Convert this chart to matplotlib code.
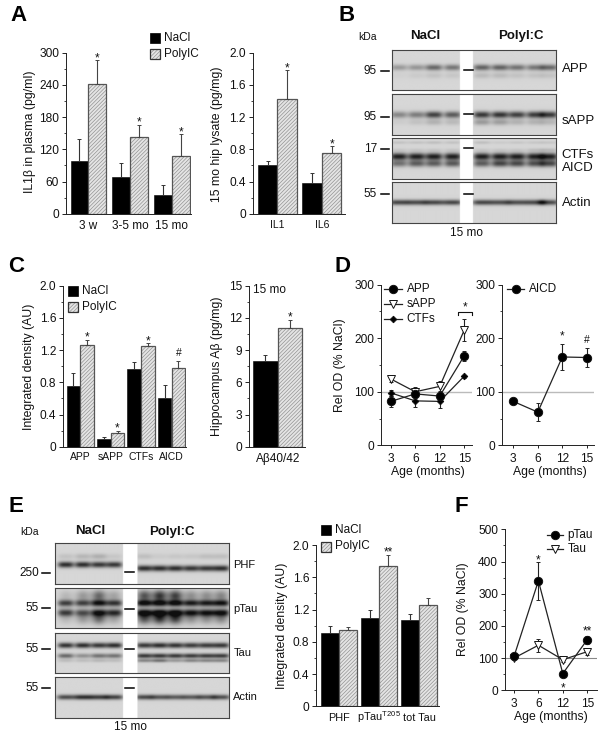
import numpy as np
import matplotlib
matplotlib.use("Agg")
import matplotlib.pyplot as plt
from matplotlib.patches import Rectangle

plt.rcParams['font.family'] = ['Liberation Sans', 'DejaVu Sans']
plt.rcParams['mathtext.fontset'] = 'custom'
plt.rcParams['mathtext.rm'] = 'Liberation Sans'
plt.rcParams['hatch.linewidth'] = 0.45

W, H = 600, 737
INK = '#222222'
HATCH = '#8c8c8c'
FILL = '#e4e4e4'

# panel A
a1_groups = ['3 w', '3-5 mo', '15 mo']
a1_nacl = [98, 68, 35]
a1_nacl_err = [42, 27, 19]
a1_poly = [242, 143, 107]
a1_poly_err = [44, 23, 41]
a1_marks = ['*', '*', '*']
a2_groups = ['IL1', 'IL6']
a2_nacl = [0.60, 0.38]
a2_nacl_err = [0.05, 0.12]
a2_poly = [1.42, 0.75]
a2_poly_err = [0.36, 0.09]
a2_marks = ['*', '*']

# panel C
c1_groups = ['APP', 'sAPP', 'CTFs', 'AICD']
c1_nacl = [0.75, 0.09, 0.97, 0.60]
c1_nacl_err = [0.16, 0.03, 0.08, 0.17]
c1_poly = [1.26, 0.17, 1.25, 0.98]
c1_poly_err = [0.07, 0.03, 0.04, 0.09]
c1_marks = ['*', '*', '*', '#']
c2_groups = ['A\u03b240/42']
c2_nacl = [8.0]
c2_nacl_err = [0.5]
c2_poly = [11.1]
c2_poly_err = [0.75]
c2_marks = ['*']

# panel D
ages = ['3', '6', '12', '15']
d_app = [82, 96, 92, 167]
d_app_err = [10, 8, 10, 10]
d_sapp = [124, 100, 110, 215]
d_sapp_err = [5, 8, 10, 21]
d_ctf = [98, 83, 82, 129]
d_ctf_err = [5, 12, 13, 3]
d_aicd = [82, 62, 165, 164]
d_aicd_err = [2, 17, 25, 17]

# panel E bars
e_groups = ['PHF', 'pTau$^{\\mathrm{T205}}$', 'tot Tau']
e_nacl = [0.91, 1.10, 1.07]
e_nacl_err = [0.09, 0.09, 0.07]
e_poly = [0.94, 1.74, 1.26]
e_poly_err = [0.04, 0.14, 0.08]
e_marks = ['', '**', '']

# panel F
f_ptau = [105, 340, 52, 157]
f_ptau_err = [5, 60, 8, 12]
f_tau = [100, 140, 95, 120]
f_tau_err = [5, 20, 6, 10]

# blot band strengths per lane (NaCl lanes then PolyI:C lanes)
b_app_main = [.30, .32, .55, .48, .58, .58, .50, .48, .55]
b_app_low = [.03, .06, .10, .08, .14, .14, .10, .10, .10]
b_sapp_main = [.40, .45, .75, .62, .80, .82, .76, .78, .80]
b_sapp_low = [.05, .10, .18, .14, .30, .28, .18, .18, .16]
b_ctf_faint = [.10, .10, .12, .10, .12, .06, .08, .08, .08]
b_ctf_mid = [.06, .06, .06, .06, .06, .06, .06, .10, .12]
b_ctf_main = [.92, .92, .92, .92, .92, .92, .92, .92, .92]
b_ctf_aicd = [.50, .60, .60, .62, .60, .72, .70, .68, .72]
b_actin = [.72, .70, .72, .72, .72, .68, .68, .70, .70]
e_phf_nacl = [.85, .85, .80, .80, 0, 0, 0, 0, 0, 0]
e_phf_poly = [0, 0, 0, 0, .85, .85, .85, .80, .80, .85]
e_phf_up = [.10, .16, .20, .08, .12, .06, .08, .08, .12, .12]
e_ptau_up = [.75, .72, .95, .80, 1.0, 1.0, 1.0, .90, .90, .95]
e_ptau_low = [.75, .62, .92, .82, 1.0, 1.0, 1.0, .92, .92, .95]
e_ptau_smear = [.15, .30, .55, .25, .65, .80, .75, .35, .35, .40]
e_tau_up = [.82, .85, .80, .85, .80, .85, .82, .78, .78, .80]
e_tau_mid = [.55, .35, .50, .50, .80, .80, .80, .78, .78, .78]
e_tau_low = [.12, .12, .15, .12, .40, .50, .30, .40, .40, .40]
e_actin = [.70, .85, .78, .75, .72, .65, .62, .62, .65, .68]


def ax_px(x0, x1, ytop, ybot):
    ax = fig.add_axes([x0 / W, 1 - ybot / H, (x1 - x0) / W, (ybot - ytop) / H])
    ax.patch.set_alpha(0)
    ax.spines[['top', 'right']].set_visible(False)
    for s in ['left', 'bottom']:
        ax.spines[s].set_linewidth(0.7)
        ax.spines[s].set_color(INK)
    ax.tick_params(which='major', length=2.8, width=0.7, color=INK, labelsize=8.6, pad=2, labelcolor='#111111')
    ax.tick_params(which='minor', length=1.6, width=0.6, color=INK)
    return ax


def y_axis(ax, top, step, fmt):
    ticks = np.arange(0, top + step / 2, step)
    ax.set_ylim(0, top)
    ax.set_yticks(ticks)
    ax.set_yticks(ticks[:-1] + step / 2, minor=True)
    ax.set_yticklabels([('0' if t == 0 else fmt % t) for t in ticks])


def hatched(ax, x, y, w):
    ax.bar(x, y, w, facecolor=FILL, edgecolor=HATCH, hatch='/////////', linewidth=0)
    ax.bar(x, y, w, facecolor='none', edgecolor='#555555', linewidth=0.9)


def bars(box, first, spacing, bw, groups, nacl, nacl_err, poly, poly_err, marks, top, step, fmt, xsize=8.5, xpad=4.5):
    x0, x1, ytop, ybot = box
    ax = ax_px(*box)
    x = np.arange(len(groups))
    w = bw / spacing
    ax.set_xlim((x0 - first) / spacing, (x1 - first) / spacing)
    ax.bar(x - w / 2, nacl, w, color='black', edgecolor='black', linewidth=0.4)
    hatched(ax, x + w / 2, poly, w)
    ax.errorbar(x - w / 2, nacl, yerr=[np.zeros(len(x)), nacl_err], fmt='none', ecolor='#333333', elinewidth=0.8, capsize=1.4, capthick=0.7)
    ax.errorbar(x + w / 2, poly, yerr=[np.zeros(len(x)), poly_err], fmt='none', ecolor='#444444', elinewidth=0.8, capsize=1.4, capthick=0.7)
    for i, m in enumerate(marks):
        if m:
            ax.annotate(m, (x[i] + w / 2, poly[i] + poly_err[i]), xytext=(0, -3 if m != '#' else 1.5), textcoords='offset points',
                        ha='center', va='bottom', fontsize=8.5 if m != '#' else 7.5, color='#111111')
    y_axis(ax, top, step, fmt)
    ax.set_xticks(x)
    ax.set_xticklabels(groups, fontsize=xsize)
    ax.tick_params(axis='x', length=0, pad=xpad)
    return ax


def lines(box, first, spacing, top, step):
    x0, x1, ytop, ybot = box
    ax = ax_px(*box)
    ax.set_xlim((x0 - first) / spacing, (x1 - first) / spacing)
    y_axis(ax, top, step, '%d')
    ax.set_xticks(range(len(ages)))
    ax.set_xticklabels(ages)
    ax.tick_params(axis='x', length=2, pad=3.5)
    return ax


def series(ax, vals, errs, marker, ms, face='black', lw=0.9):
    ax.errorbar(range(len(vals)), vals, yerr=errs, color='#222222', marker=marker, ms=ms, mfc=face, mec='#111111',
                mew=0.7, lw=lw, elinewidth=0.8, capsize=1.5, capthick=0.7, zorder=3)


def blot(box, gap, lanes, bands, half, smears=()):
    x0, x1, ytop, ybot = box
    ax = fig.add_axes([x0 / W, 1 - ybot / H, (x1 - x0) / W, (ybot - ytop) / H])
    xs = np.linspace(x0, x1, int((x1 - x0) * 3))
    ys = np.linspace(ytop, ybot, int((ybot - ytop) * 3))
    dark = np.zeros((len(ys), len(xs)))
    for yc, sig, ints in bands:
        sig = sig * 1.2
        for lx, v in zip(lanes, ints):
            dark += v * np.exp(-((ys - yc) / sig) ** 2 / 2)[:, None] * np.exp(-np.abs((xs - lx) / half) ** 3.5)[None, :]
    for yc, sig, ints in smears:
        for lx, v in zip(lanes, ints):
            dark += v * np.exp(-((ys - yc) / sig) ** 2 / 2)[:, None] * np.exp(-((xs - lx) / (half * 0.9)) ** 2)[None, :]
    img = 0.84 - 0.78 * np.clip(dark, 0, 1)
    img[:, (xs > gap[0]) & (xs < gap[1])] = 1
    ax.imshow(img, extent=[x0, x1, ybot, ytop], aspect='auto', cmap='gray', vmin=0, vmax=1, interpolation='bilinear')
    ax.set_xticks([])
    ax.set_yticks([])
    for s in ax.spines.values():
        s.set_linewidth(0.8)
        s.set_color('#444444')
    return ax


def txt(x, y, s, size=8.5, **kw):
    kw.setdefault('ha', 'left')
    kw.setdefault('va', 'center')
    kw.setdefault('color', '#111111')
    pg.text(x, y, s, fontsize=size, **kw)


def bar_legend(x, y1, y2, size=8.5):
    pg.add_patch(Rectangle((x, y1 - 5), 10, 10, facecolor='black', edgecolor='black', lw=0.5))
    pg.add_patch(Rectangle((x, y2 - 5), 10, 10, facecolor=FILL, edgecolor=HATCH, hatch='/////////', lw=0))
    pg.add_patch(Rectangle((x, y2 - 5), 10, 10, facecolor='none', edgecolor='#333333', lw=0.9))
    txt(x + 14, y1, 'NaCl', size)
    txt(x + 14, y2, 'PolyIC', size)


def line_legend(x0, x1, y, label, tx, marker, ms, face='black'):
    pg.plot([x0, x1], [y, y], color='#222222', lw=0.9)
    pg.plot([(x0 + x1) / 2], [y], marker, ms=ms, mfc=face, mec='#111111', mew=0.7)
    txt(tx, y, label, 8.5)


fig = plt.figure(figsize=(W / 100, H / 100), dpi=100, facecolor='white')
pg = fig.add_axes([0, 0, 1, 1], zorder=10)
pg.set_xlim(0, W)
pg.set_ylim(H, 0)
pg.axis('off')
pg.patch.set_alpha(0)

# bar panels
bars((65.7, 191, 52.7, 213.7), 88.3, 41.7, 17.8, a1_groups, a1_nacl, a1_nacl_err, a1_poly, a1_poly_err, a1_marks, 300, 60, '%d')
bars((252.7, 345, 52.7, 213.7), 277.3, 44.6, 19.5, a2_groups, a2_nacl, a2_nacl_err, a2_poly, a2_poly_err, a2_marks, 2.0, 0.4, '%.1f', xsize=7.5)
bars((63, 186, 285.7, 446.7), 80.3, 30.4, 13.7, c1_groups, c1_nacl, c1_nacl_err, c1_poly, c1_poly_err, c1_marks, 2.0, 0.4, '%.1f', xsize=7.5, xpad=4)
bars((249, 305, 285.7, 446.7), 277.7, 50, 24.5, c2_groups, c2_nacl, c2_nacl_err, c2_poly, c2_poly_err, c2_marks, 15, 3, '%d')
ax = bars((316, 439, 545, 706.3), 338.7, 40.3, 18, e_groups, e_nacl, e_nacl_err, e_poly, e_poly_err, e_marks, 2.0, 0.4, '%.1f', xsize=7.8, xpad=10.5)
for lab in ax.get_xticklabels():
    lab.set_verticalalignment('baseline')

# line panels
ax = lines((381, 471.7, 284.7, 445.3), 390.7, 24.5, 300, 100)
ax.axhline(100, color='#bbbbbb', lw=1.0, zorder=1)
series(ax, d_sapp, d_sapp_err, 'v', 6, face='white')
series(ax, d_ctf, d_ctf_err, 'D', 3.3)
series(ax, d_app, d_app_err, 'o', 6)
ax.plot([2.75, 2.75, 3.3, 3.3], [243, 249, 249, 243], color='#111111', lw=0.8, clip_on=False)
ax.text(3.03, 247, '*', ha='center', va='bottom', fontsize=8.5, color='#111111')

ax = lines((502, 594, 284.7, 445.3), 513.3, 24.5, 300, 100)
ax.axhline(100, color='#bbbbbb', lw=1.0, zorder=1)
series(ax, d_aicd, d_aicd_err, 'o', 6)
ax.text(2, 192, '*', ha='center', va='bottom', fontsize=8.5, color='#111111')
ax.text(3, 187, '#', ha='center', va='bottom', fontsize=7.5, color='#111111')

ax = lines((504.7, 596.7, 529.3, 690.3), 514, 24.4, 500, 100)
ax.axhline(100, color='#888888', lw=0.8, zorder=1)
series(ax, f_tau, f_tau_err, 'v', 6, face='white')
series(ax, f_ptau, f_ptau_err, 'o', 6)
ax.text(1, 385, '*', ha='center', va='bottom', fontsize=8.5, color='#111111')
ax.text(2, -12, '*', ha='center', va='bottom', fontsize=8.5, color='#111111')
ax.text(3, 163, '**', ha='center', va='bottom', fontsize=8.5, color='#111111')

# blots B
b_lanes = [399, 416.7, 434, 452.7, 482, 500, 517, 535, 549]
b_gap = (460, 473)
blot((392.3, 555.7, 49.7, 90.3), b_gap, b_lanes, [(68, 1.8, b_app_main), (76, 1.8, b_app_low)], 8.5)
blot((392.3, 555.7, 93.7, 134.7), b_gap, b_lanes, [(114.5, 2.0, b_sapp_main), (122, 1.8, b_sapp_low)], 8.5)
blot((392.3, 555.7, 138.3, 179), b_gap, b_lanes, [(142.7, 0.9, b_ctf_faint), (150, 1.0, b_ctf_mid), (156.7, 2.1, b_ctf_main), (163.7, 2.0, b_ctf_aicd)], 8.5)
blot((392.3, 555.7, 182.3, 223.3), b_gap, b_lanes, [(202.7, 1.6, b_actin)], 10)

# blots E
e_lanes = [65.7, 82.7, 98.7, 114, 144, 159.3, 175, 190.7, 206, 220.7]
e_gap = (122.7, 137)
blot((55, 229.3, 543.3, 584.3), e_gap, e_lanes, [(565, 1.8, e_phf_nacl), (568.7, 1.8, e_phf_poly), (556.7, 1.7, e_phf_up)], 8)
blot((55, 229.3, 588.3, 628.3), e_gap, e_lanes, [(603.5, 2.0, e_ptau_up), (613, 2.2, e_ptau_low)], 8,
     smears=[(596, 4, e_ptau_smear), (619, 4, e_ptau_smear)])
blot((55, 229.3, 632.7, 672.7), e_gap, e_lanes, [(645.7, 1.6, e_tau_up), (656, 1.4, e_tau_mid), (660.7, 1.0, e_tau_low)], 8)
blot((55, 229.3, 677.3, 718), e_gap, e_lanes, [(697.3, 1.5, e_actin)], 9)

# blot annotations
txt(358, 37, 'kDa', 7.5)
txt(425, 36, 'NaCl', 9.5, ha='center', fontweight='bold')
txt(520.7, 36, 'PolyI:C', 9.5, ha='center', fontweight='bold')
txt(467, 233, '15 mo', 8.5, ha='center')
for s, y, gy in [('95', 71, 69.5), ('95', 117, 114), ('17', 149.3, 147.7), ('55', 194.3, 194.3)]:
    txt(377, y, s, 8.5, ha='right')
    pg.plot([380.5, 389], [y, y], color='black', lw=1.1)
    pg.plot([464, 473], [gy, gy], color='black', lw=1.1)
for s, y in [('APP', 68.7), ('sAPP', 120.5), ('CTFs', 155), ('AICD', 167.5), ('Actin', 203)]:
    txt(561.7, y, s, 9.5)

txt(20, 531.7, 'kDa', 7.5)
txt(90, 531.5, 'NaCl', 9.5, ha='center', fontweight='bold')
txt(171.7, 531.5, 'PolyI:C', 9.5, ha='center', fontweight='bold')
txt(130, 727, '15 mo', 8.5, ha='center')
for s, y, gy in [('250', 572.7, 572), ('55', 608, 609), ('55', 649, 648.7), ('55', 687.7, 688)]:
    txt(39, y, s, 8.5, ha='right')
    pg.plot([42, 50], [y, y], color='black', lw=1.1)
    pg.plot([125, 134], [gy, gy], color='black', lw=1.1)
for s, y in [('PHF', 565), ('pTau', 609.3), ('Tau', 653), ('Actin', 696.7)]:
    txt(233.3, y, s, 8)

# axis titles
for x, y, s in [(30, 132, 'IL1\u03b2 in plasma (pg/ml)'), (216.7, 134, '15 mo hip lysate (pg/mg)'),
                (29.3, 366.7, 'Integrated density (AU)'), (216.7, 366, 'Hippocampus A\u03b2 (pg/mg)'),
                (340, 365, 'Rel OD (% NaCl)'), (281.7, 626, 'Integrated density (AU)'), (462.7, 609, 'Rel OD (% NaCl)')]:
    txt(x, y, s, 8.8, rotation=90, ha='center')
for x, y in [(428, 472), (550, 472), (550.7, 717)]:
    txt(x, y, 'Age (months)', 8.8, ha='center')
txt(253, 290, '15 mo', 8.5)

# legends
bar_legend(150, 38, 54)
bar_legend(68, 291, 307)
bar_legend(321, 530, 546.5)
line_legend(384, 402, 289.3, 'APP', 406.7, 'o', 6)
line_legend(384, 402, 304.3, 'sAPP', 406.7, 'v', 6, face='white')
line_legend(384, 402, 319, 'CTFs', 406.7, 'D', 3.3)
line_legend(507, 524, 289.3, 'AICD', 529, 'o', 6)
line_legend(547, 563, 535, 'pTau', 567.7, 'o', 6)
line_legend(547, 563, 549, 'Tau', 567.7, 'v', 6, face='white')

# panel letters
for x, y, s in [(10, 15, 'A'), (339, 15, 'B'), (8, 266.7, 'C'), (334, 266.7, 'D'), (8, 506.7, 'E'), (455, 506.7, 'F')]:
    txt(x, y, s, 16, fontweight='bold', color='black')

pg.set_xlim(0, W)
pg.set_ylim(H, 0)
fig.savefig('out.png', dpi=100)
